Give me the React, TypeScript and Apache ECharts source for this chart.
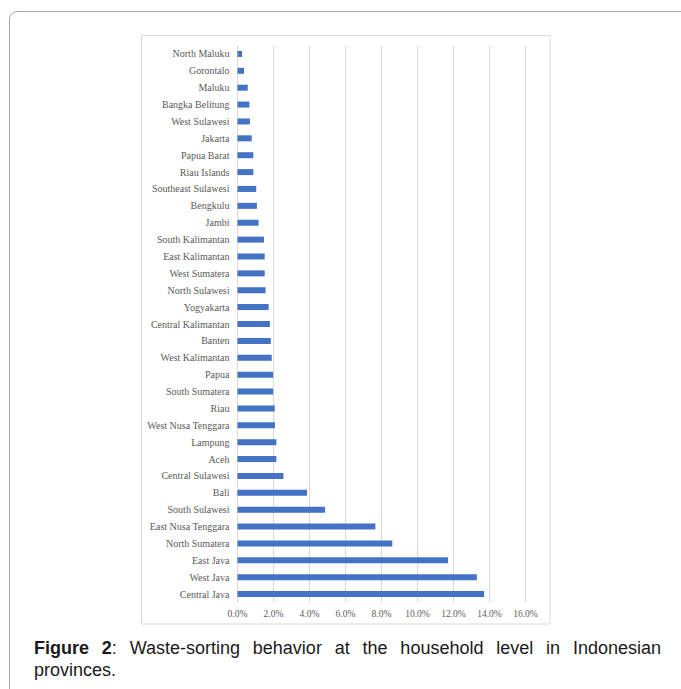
import React, { useEffect, useRef } from "react";
import * as echarts from "echarts";

const provinces = [
  "Central Java", "West Java", "East Java", "North Sumatera", "East Nusa Tenggara",
  "South Sulawesi", "Bali", "Central Sulawesi", "Aceh", "Lampung",
  "West Nusa Tenggara", "Riau", "South Sumatera", "Papua", "West Kalimantan",
  "Banten", "Central Kalimantan", "Yogyakarta", "North Sulawesi", "West Sumatera",
  "East Kalimantan", "South Kalimantan", "Jambi", "Bengkulu", "Southeast Sulawesi",
  "Riau Islands", "Papua Barat", "Jakarta", "West Sulawesi", "Bangka Belitung",
  "Maluku", "Gorontalo", "North Maluku",
];

const shares = [
  0.137, 0.133, 0.117, 0.086, 0.0766,
  0.0486, 0.0386, 0.0255, 0.0216, 0.0216,
  0.0208, 0.0207, 0.0198, 0.0198, 0.019,
  0.0185, 0.018, 0.0173, 0.0156, 0.0151,
  0.0151, 0.0147, 0.0117, 0.0108, 0.0104,
  0.0088, 0.0088, 0.0079, 0.0069, 0.0066,
  0.0057, 0.0036, 0.0025,
];

const xTicks = { min: 0, max: 0.16, step: 0.02 };

const captionLine1 = ["Figure", "2:", "Waste-sorting", "behavior", "at", "the", "household", "level", "in", "Indonesian"];
const captionLine2 = "provinces.";

export default function App() {
  const ref = useRef<HTMLDivElement>(null);

  useEffect(() => {
    if (!ref.current) return;
    const chart = echarts.init(ref.current, undefined, { renderer: "svg" });

    const fontFamily = "'Liberation Sans', Arial, sans-serif";
    const fontSize = 18;
    const canvas = document.createElement("canvas");
    const ctx = canvas.getContext("2d")!;
    const measure = (t: string, bold: boolean) => {
      ctx.font = `${bold ? "bold " : ""}${fontSize}px ${fontFamily}`;
      return ctx.measureText(t).width;
    };
    const widths = captionLine1.map((w, i) => {
      if (i === 0) return measure(w, true);
      if (i === 1) return measure("2", true) + measure(":", false);
      return measure(w, false);
    });
    const left = 34;
    const right = 661;
    const total = widths.reduce((a, b) => a + b, 0);
    const gap = (right - left - total) / (captionLine1.length - 1);
    const captionEls: any[] = [];
    let cx = left;
    captionLine1.forEach((w, i) => {
      const style: any = {
        text: i === 1 ? "{b|2}:" : w,
        x: 0,
        y: 0,
        fill: "#1a1a1a",
        font: `${i === 0 ? "bold " : ""}${fontSize}px ${fontFamily}`,
        verticalAlign: "middle",
        align: "left",
      };
      if (i === 1) {
        style.rich = { b: { fontWeight: "bold", fontSize, fontFamily, fill: "#1a1a1a" } };
        style.fontSize = fontSize;
        style.fontFamily = fontFamily;
        delete style.font;
      }
      captionEls.push({ type: "text", x: cx, y: 648, style });
      cx += widths[i] + gap;
    });
    captionEls.push({
      type: "text",
      x: left,
      y: 670,
      style: {
        text: captionLine2,
        fill: "#1a1a1a",
        font: `${fontSize}px ${fontFamily}`,
        verticalAlign: "middle",
        align: "left",
      },
    });

    chart.setOption({
      animation: false,
      backgroundColor: "#ffffff",
      grid: { left: 237.5, right: 155.5, top: 45.5, bottom: 86.5, containLabel: false },
      xAxis: {
        type: "value",
        min: xTicks.min,
        max: xTicks.max,
        interval: xTicks.step,
        axisLine: { show: false },
        axisTick: { show: false },
        splitLine: { lineStyle: { color: "#d9d9d9", width: 1 } },
        axisLabel: {
          margin: 6,
          color: "#595959",
          fontSize: 9.5,
          fontFamily: "'Liberation Serif', serif",
          formatter: (v: number) => (v * 100).toFixed(1) + "%",
        },
      },
      yAxis: {
        type: "category",
        data: provinces,
        axisLine: { show: true, lineStyle: { color: "#d9d9d9" } },
        axisTick: { show: false },
        axisLabel: {
          margin: 8,
          color: "#595959",
          fontSize: 10,
          fontFamily: "'Liberation Serif', serif",
          interval: 0,
        },
      },
      series: [
        {
          type: "bar",
          data: shares,
          barWidth: 6,
          itemStyle: { color: "#4472C4" },
        },
      ],
      graphic: [
        {
          type: "rect",
          shape: { x: 9.5, y: 11.5, width: 720, height: 720, r: 8 },
          style: { fill: "none", stroke: "#a6a6a6", lineWidth: 1 },
          z: 0,
        },
        {
          type: "rect",
          shape: { x: 141.5, y: 35.5, width: 408.5, height: 588.5 },
          style: { fill: "none", stroke: "#d9d9d9", lineWidth: 1 },
          z: 0,
        },
        ...captionEls,
      ],
    });
    return () => chart.dispose();
  }, []);

  return <div ref={ref} style={{ width: 681, height: 689, position: "absolute", left: 0, top: 0 }} />;
}
